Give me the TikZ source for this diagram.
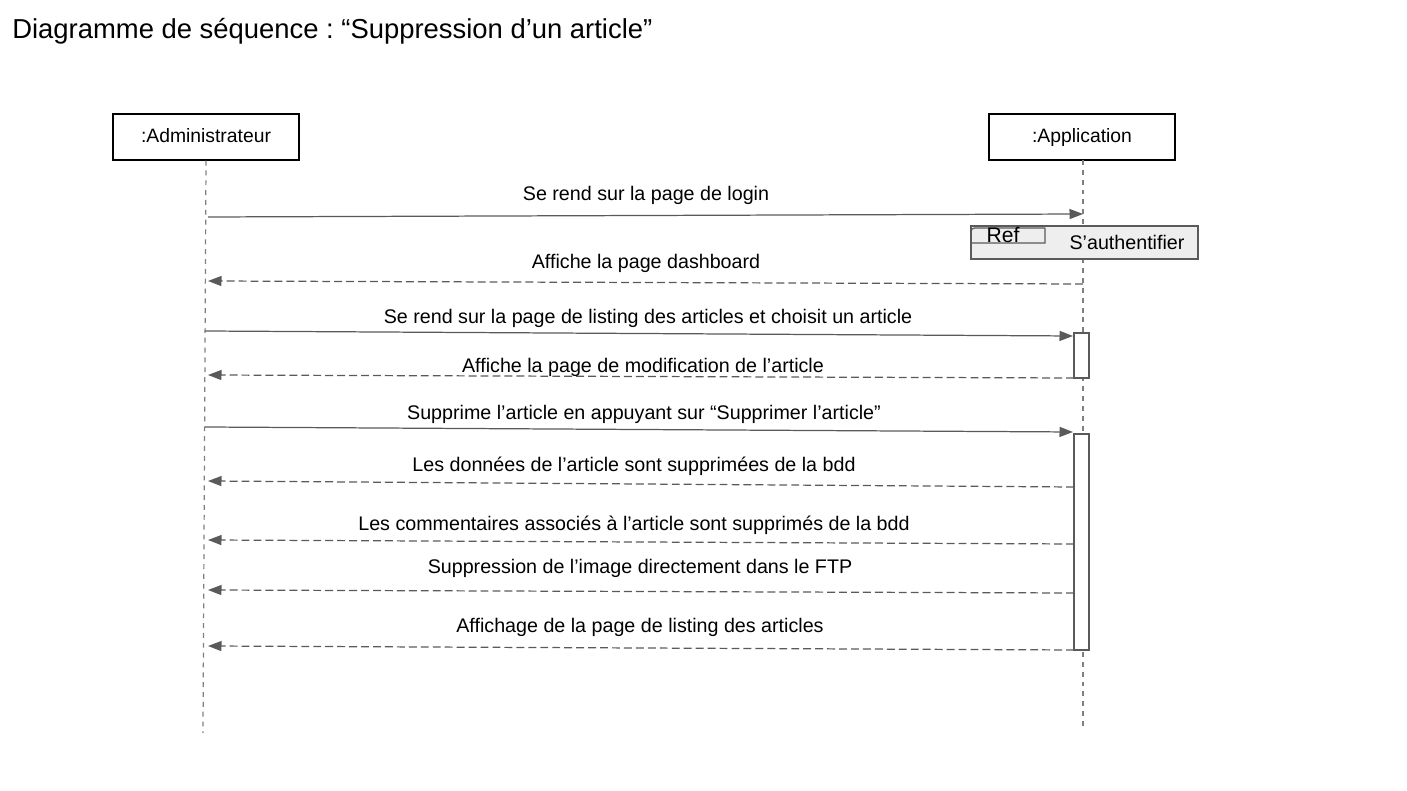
\documentclass[tikz,border=0pt]{standalone}
\usepackage{fontspec}
\setmainfont{Liberation Sans}
\usetikzlibrary{arrows.meta}
\definecolor{linegray}{HTML}{5A5A5A}
\definecolor{lifegray}{HTML}{7F7F7F}
\definecolor{refgray}{HTML}{EEEEEE}
\frenchspacing

\begin{document}
\begin{tikzpicture}[x=0.2mm,y=-0.2mm,
  actor/.style={draw,line width=0.7pt,minimum width=37.2mm,minimum height=9.2mm,inner sep=0pt,text height=1.7ex,text depth=0.45ex,font=\fontsize{11}{13}\selectfont},
  lifeline/.style={draw=lifegray,line width=0.7pt,dash pattern=on 2.8pt off 2.8pt},
  msg/.style={draw=linegray,line width=0.7pt,-{Triangle[length=2.7mm,width=2mm]}},
  reply/.style={msg,dash pattern=on 4.5pt off 2.3pt},
  lbl/.style={font=\fontsize{11.2}{13}\selectfont,inner sep=0pt,yshift=-0.4mm},
  actbox/.style={draw=linegray,fill=white,line width=0.7pt,minimum width=3mm,inner sep=0pt},
  refbox/.style={draw=linegray,fill=refgray,line width=0.7pt,minimum width=45.4mm,minimum height=6.6mm,inner sep=0pt}]
\useasboundingbox (0,0) rectangle (1407,791);
\node[anchor=west,inner sep=0pt,font=\fontsize{15.6}{18}\selectfont] (title) at (12,31) {Diagramme de séquence : “Suppression d’un article”};

\node[actor] (admin) at (206,137) {:Administrateur};
\node[actor] (app) at (1082,137) {:Application};
\coordinate (adminEnd) at (203,733);
\coordinate (appEnd) at (1083,730);
\draw[lifeline] (admin.south) -- (adminEnd);
\draw[lifeline] (1083,160) coordinate (appTop) -- (appEnd);

\coordinate (m1s) at (208,217);
\coordinate (m1e) at (1083,214);
\draw[msg] (m1s) -- (m1e);
\node[lbl] (l1) at (646,193) {Se rend sur la page de login};

\node[refbox] (ref) at (1084.5,242.5) {};
\draw[linegray,line width=0.7pt] (1045,228) -- (1045,243) -- (971,243) [rounded corners=2pt] -- (971,228) -- (1045,228);
\node[inner sep=0pt,font=\fontsize{12}{14}\selectfont] (reflbl) at (1003,235) {Ref};
\node[lbl] (refname) at (1127,240) {S’authentifier};

\coordinate (m2s) at (1083,284);
\coordinate (m2e) at (208,281);
\draw[reply] (m2s) -- (m2e);
\node[lbl] (l2) at (646,261) {Affiche la page dashboard};

\node[actbox,minimum height=9mm] (act1) at (1081.5,355.5) {};
\coordinate (m3s) at (205,331);
\coordinate (m3e) at (1073,336);
\draw[msg] (m3s) -- (m3e);
\node[lbl] (l3) at (648,316) {Se rend sur la page de listing des articles et choisit un article};

\coordinate (m4s) at (1074,378);
\coordinate (m4e) at (208,375);
\draw[reply] (m4s) -- (m4e);
\node[lbl] (l4) at (643,365) {Affiche la page de modification de l’article};

\node[actbox,minimum height=43.2mm] (act2) at (1081.5,542) {};
\coordinate (m5s) at (205,427);
\coordinate (m5e) at (1073,432);
\draw[msg] (m5s) -- (m5e);
\node[lbl] (l5) at (644,412) {Supprime l’article en appuyant sur “Supprimer l’article”};

\coordinate (m6s) at (1074,487);
\coordinate (m6e) at (208,481);
\draw[reply] (m6s) -- (m6e);
\node[lbl] (l6) at (634,464) {Les données de l’article sont supprimées de la bdd};

\coordinate (m7s) at (1074,544);
\coordinate (m7e) at (208,540);
\draw[reply] (m7s) -- (m7e);
\node[lbl] (l7) at (634,523) {Les commentaires associés à l’article sont supprimés de la bdd};

\coordinate (m8s) at (1074,593);
\coordinate (m8e) at (208,590);
\draw[reply] (m8s) -- (m8e);
\node[lbl] (l8) at (640,566) {Suppression de l’image directement dans le FTP};

\coordinate (m9s) at (1074,650);
\coordinate (m9e) at (208,646);
\draw[reply] (m9s) -- (m9e);
\node[lbl] (l9) at (640,625) {Affichage de la page de listing des articles};
\end{tikzpicture}
\end{document}
